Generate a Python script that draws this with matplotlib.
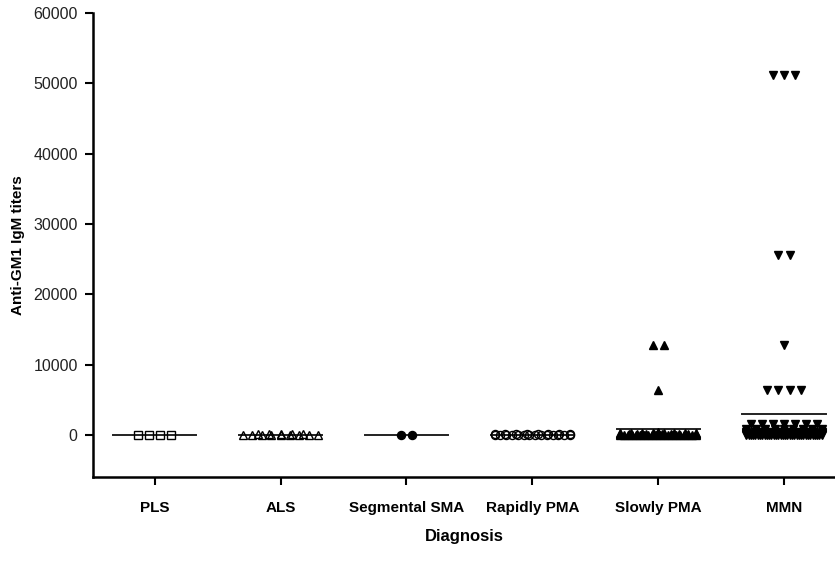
import numpy as np
import matplotlib
matplotlib.use("Agg")
import matplotlib.pyplot as plt

plt.rcParams['font.family'] = ['Liberation Sans', 'DejaVu Sans']

categories = ["PLS", "ALS", "Segmental SMA", "Rapidly PMA", "Slowly PMA", "MMN"]

pls = [0] * 4
als = [0] * 9 + [100] * 5
seg_sma = [0] * 2
rapid_pma = [0] * 14 + [100] * 8
slow_pma = [12800] * 2 + [6400] + [400] + [200] * 8 + [100] * 10 + [0] * 20
mmn = ([51200] * 3 + [25600] * 2 + [12800] + [6400] * 4 + [1600] * 7 +
       [800] * 9 + [400] * 10 + [200] * 10 + [100] * 12 + [0] * 34)

series = [pls, als, seg_sma, rapid_pma, slow_pma, mmn]
markers = ['s', '^', 'o', 'o', '^', 'v']
filled = [False, False, True, False, True, True]

y_ticks = [0, 10000, 20000, 30000, 40000, 50000, 60000]


def swarm(x0, vals, step=0.088, half=0.3):
    vals = np.asarray(vals)
    xs = np.empty(len(vals))
    for v in np.unique(vals):
        idx = np.where(vals == v)[0]
        k = len(idx)
        s = step if k < 2 else min(step, 2 * half / (k - 1))
        xs[idx] = x0 + (np.arange(k) - (k - 1) / 2) * s
    return xs


fig = plt.figure(figsize=(8.35, 5.78), dpi=100)
ax = fig.add_axes([0.1114, 0.1747, 0.8886, 0.8028])

for i, vals in enumerate(series):
    xs = swarm(i, vals)
    m = np.mean(vals)
    ax.plot([i - 0.33, i + 0.33], [m, m], color='#222222', lw=1.4, zorder=2)
    fc = 'black' if filled[i] else 'none'
    ax.plot(xs, vals, linestyle='none', marker=markers[i], markersize=5.8,
            markerfacecolor=fc, markeredgecolor='black', markeredgewidth=1.0,
            zorder=3)

ax.set_xlim(-0.49, 5.405)
ax.set_ylim(-6000, 60000)
ax.set_yticks(y_ticks)
ax.set_yticklabels([str(t) for t in y_ticks], fontsize=11.5, color='#222222')
ax.set_xticks(range(len(categories)))
ax.set_xticklabels(categories, fontsize=11, fontweight='bold')

for s in ['top', 'right']:
    ax.spines[s].set_visible(False)
for s in ['left', 'bottom']:
    ax.spines[s].set_linewidth(1.8)
ax.tick_params(axis='y', length=6, width=1.5, pad=5)
ax.tick_params(axis='x', length=6, width=1.5, pad=11)

ax.set_ylabel("Anti-GM1 IgM titers", fontsize=11, fontweight='bold', labelpad=6)
ax.set_xlabel("Diagnosis", fontsize=12, fontweight='bold', labelpad=10)

fig.savefig("out.png", dpi=100)
